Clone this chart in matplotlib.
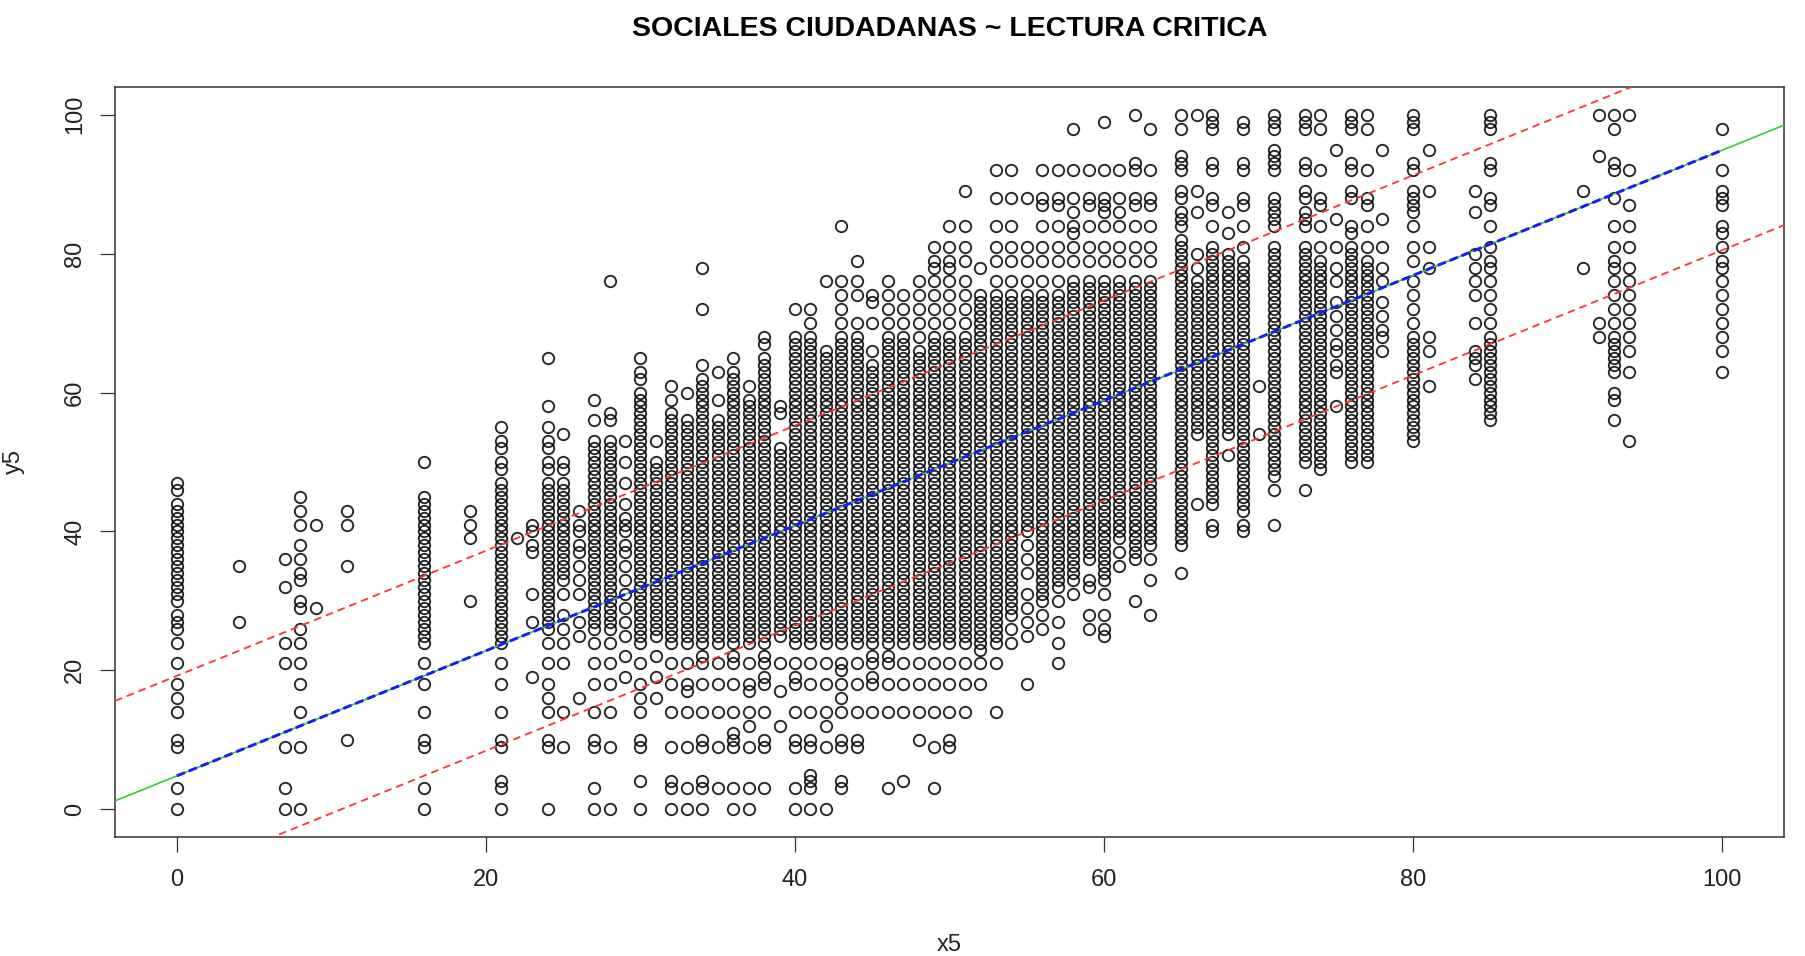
import matplotlib
matplotlib.use("Agg")
import matplotlib.pyplot as plt

# ---------------- data ----------------
# Each column x has a spec string of y values; "a-b" = every integer level from a to b.
X_LEFT = [0, 4, 7, 8, 9, 11, 16, 19, 21, 22, 23]
Y_LEFT = [
    "0 3 9 10 14 16 18 21 24 26 27 28 30-44 46 47",
    "27 35",
    "0 3 9 21 24 32 36",
    "0 9 14 18 21 24 26 29 30 33 34 36 38 41 43 45",
    "29 41",
    "10 35 41 43",
    "0 3 9 10 14 18 21 24-45 50",
    "30 39 41 43",
    "0 3 4 9 10 14 18 21 24-47 49 50 52 53 55",
    "39",
    "19 27 31 37 38 40 41",
]

X_MID_A = [24, 25, 26, 27, 28, 29, 30, 31, 32, 33, 34, 35, 36, 37, 38, 39, 40, 41, 42, 43]
Y_MID_A = [
    "0 9 10 14 16 18 21 24 26-47 49 50 52 53 55 58 65",
    "9 14 21 24 26 28 31 33-47 49 50 54",
    "16 25 27 31 33 35 37 38 40 41 43",
    "0 3 9 10 14 18 21 24 26-53 56 59",
    "0 9 14 18 21 24 26-53 56 57 76",
    "19 22 25 27 29 31 33 35 37 38 40 41 42 44 47 50 53",
    "0 4 9 10 14 16 18 21 24-60 62 63 65",
    "16 19 22 25-50 53",
    "0 3 4 9 14 18 21 24-57 59 61",
    "0 3 9 14 17 18 21 24-56 60",
    "0 3 4 9 10 14 18 21 22 24-61 62 64 72 78",
    "3 9 14 18 21 24-56 59 63",
    "0 3 9 10 11 14 18 21 22 24-63 65",
    "0 3 9 12 14 17 18 21 24-59 61",
    "3 9 10 14 18 19 21 22 24-65 67 68",
    "12 17 21 25-52 57 58",
    "0 3 9 10 14 18 19 21 24-68 72",
    "0 3 4 5 9 10 14 18 21 24-68 70 72",
    "0 9 12 14 18 21 24-66 76",
    "3 4 9 10 14 16 18 20 21 24-68 70 72 74 76 84",
]

X_MID_B = [44, 45, 46, 47, 48, 49, 50, 51, 52, 53, 54, 55, 56, 57, 58, 59, 60, 61, 62, 63]
Y_MID_B = [
    "9 10 14 18 21 24-68 70 74 76 79",
    "14 18 19 21 22 24-64 66 70 73 74",
    "3 14 18 21 22 24-68 70 72 74 76",
    "4 14 18 21 24-68 70 72 74",
    "10 14 18 21 24-66 68 70 72 74 76",
    "3 9 14 18 21 24-68 70 72 74 76 78 79 81",
    "9 10 14 18 21 24-68 70 72 74 76 78 79 81 84",
    "14 18 21 24-68 70 72 74 76 79 81 84 89",
    "18 21 23-74 78",
    "14 21 24-74 76 79 81 84 88 92",
    "24 26 28-74 76 79 81 84 88 92",
    "18 25 27 29 31 34 36 38 40-74 76 79 81 88",
    "26 28 30-74 76 79 81 84 87 88 92",
    "21 24 27 30 32-74 76 79 81 84 87 88 92",
    "31 33-76 79 81 83 84 86 88 92 98",
    "26 28 32 33 36-76 79 81 84 87 88 92",
    "25 26 28 31 33-76 79 81 84 86 87 88 92 99",
    "35 37 39-76 79 81 84 86 88 92",
    "30 36-76 79 81 84 87 88 92 93 100",
    "28 33 36 38-76 79 81 84 87 88 92 98",
]

X_RIGHT = [65, 66, 67, 68, 69, 70, 71, 73, 74, 75, 76, 77, 78, 80, 81, 84, 85, 91, 92, 93, 94, 100]
Y_RIGHT = [
    "34 38 39 40-82 84 85 86 88 89 92 93 94 98 100",
    "44 54-76 78 80 86 89 100",
    "40 41 44 45-81 84 87 88 92 93 98 99 100",
    "51 54-80 83 86",
    "40 41 43-79 81 84 87 88 92 93 98 99",
    "54 61",
    "41 46 48-81 84-88 92-95 98 99 100",
    "46 50-81 84 85 86 88 89 92 93 98 99 100",
    "49 50-79 81 84 87 88 92 98 100",
    "58 63 64 66 67 69 71 73 76 78 81 85 95",
    "50-81 83 84 88 89 92 93 98 99 100",
    "50-79 81 84 87 88 92 98 100",
    "66 68 69 71 73 76 78 81 85 95",
    "53-68 70 72 74 76 79 81 84 86-89 92 93 98 99 100",
    "61 66 68 78 81 89 95",
    "62 64 65 66 70 74 76 78 80 86 89",
    "56-68 70 72 74 76 78 79 81 84 87 88 92 93 98 99 100",
    "78 89",
    "68 70 94 100",
    "56 59 60 63-68 70 72 74 76 78 79 81 84 88 92 93 98 100",
    "53 63 66 68 70 72 74 76 78 81 84 87 92 100",
    "63 66 68 70 72 74 76 78 79 81 83 84 87 88 89 92 98",
]

# fitted line and prediction band
FIT_INTERCEPT = 4.8
FIT_SLOPE = 0.901
PRED_HALF_WIDTH = 14.4
FIT_X_RANGE = [0, 100]

TITLE = "SOCIALES CIUDADANAS ~ LECTURA CRITICA"
XLABEL = "x5"
YLABEL = "y5"
TICKS = [0, 20, 40, 60, 80, 100]


def expand(spec):
    vals = []
    for tok in spec.split():
        if "-" in tok:
            a, b = tok.split("-")
            vals.extend(range(int(a), int(b) + 1))
        else:
            vals.append(int(tok))
    return vals


xs, ys = [], []
for xcol, ycol in [(X_LEFT, Y_LEFT), (X_MID_A, Y_MID_A), (X_MID_B, Y_MID_B), (X_RIGHT, Y_RIGHT)]:
    for xv, spec in zip(xcol, ycol):
        for yv in expand(spec):
            xs.append(xv)
            ys.append(yv)

# ---------------- figure ----------------
plt.rcParams["font.family"] = ["Liberation Sans", "DejaVu Sans"]
W, H = 1806, 956
fig = plt.figure(figsize=(W / 100, H / 100), dpi=100)
L, R, T, B = 115, 1784, 87, 837
ax = fig.add_axes([L / W, 1 - B / H, (R - L) / W, (B - T) / H])

ax.plot(xs, ys, linestyle="none", marker="o", markersize=8.2,
        markerfacecolor="none", markeredgecolor=(0, 0, 0, 0.85),
        markeredgewidth=1.35, zorder=2)

xlim = (-4, 104)
ylim = (-4, 104)
ax.set_xlim(*xlim)
ax.set_ylim(*ylim)

# abline (green) across the whole plot
ax.plot(list(xlim), [FIT_INTERCEPT + FIT_SLOPE * v for v in xlim],
        color="#33cc33", lw=1.2, zorder=3)
# fitted values (blue dashed) over the data range
ax.plot(FIT_X_RANGE, [FIT_INTERCEPT + FIT_SLOPE * v for v in FIT_X_RANGE],
        color="#1a1aff", lw=2.1, dashes=(3.0, 1.4), zorder=4)
# prediction band (red dashed)
for sgn in (1, -1):
    ax.plot(list(xlim), [FIT_INTERCEPT + sgn * PRED_HALF_WIDTH + FIT_SLOPE * v for v in xlim],
            color="#ff3333", lw=1.3, dashes=(4.2, 2.8), zorder=4)

ax.set_xticks(TICKS)
ax.set_yticks(TICKS)
ax.set_xticklabels([str(t) for t in TICKS])
ax.set_yticklabels([str(t) for t in TICKS], rotation=90, va="center")
ax.tick_params(axis="both", direction="out", length=10.8, width=0.9,
               color="#333333", labelsize=17, labelcolor="#222222")
ax.tick_params(axis="x", pad=12)
ax.tick_params(axis="y", pad=10)
for sp in ax.spines.values():
    sp.set_linewidth(1.1)
    sp.set_color("#333333")

cx = (L + R) / 2 / W
fig.text(cx, 1 - 29 / H, TITLE, ha="center", va="center",
         fontsize=20.5, fontweight="bold", color="black")
fig.text(cx, 1 - 945 / H, XLABEL, ha="center", va="center", fontsize=17, color="#222222")
fig.text(14 / W, 1 - (T + B) / 2 / H, YLABEL, ha="center", va="center",
         rotation=90, fontsize=17, color="#222222")

fig.savefig("out.png", dpi=100)
